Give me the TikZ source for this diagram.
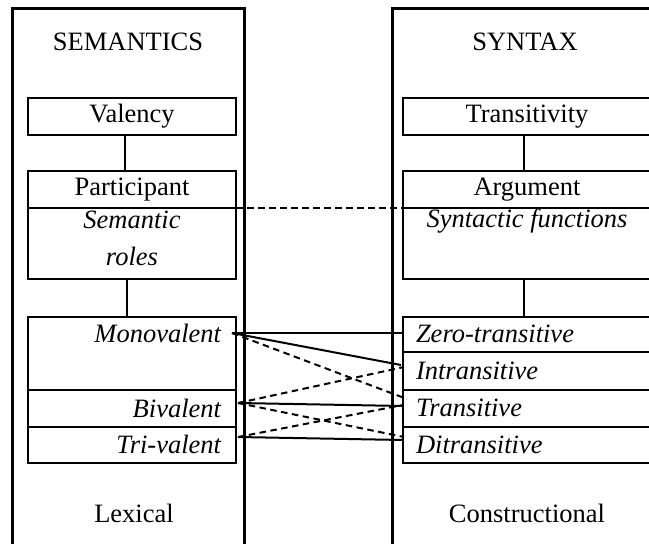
\documentclass[tikz,border=0pt]{standalone}
\usepackage{fontspec}
\setmainfont{Liberation Serif}
\begin{document}
\begin{tikzpicture}[x=1pt,y=-1pt,
  every node/.style={font=\fontsize{26.5}{37}\selectfont, inner sep=0pt, outer sep=0pt},
  panel/.style={line width=3pt},
  lcell/.style={draw, line width=2.6pt, minimum width=208pt, minimum height=#1},
  rcell/.style={draw, line width=2.6pt, minimum width=248pt, minimum height=#1},
  link/.style={line width=2pt},
  dlink/.style={line width=2pt, dash pattern=on 6.5pt off 4.5pt},
  tag/.style={font=\fontsize{26.5}{37}\selectfont\itshape}]
\useasboundingbox (0,0) rectangle (649,544);

% the two open panels
\draw[panel] (12,560) -- (12,8) -- (244,8) -- (244,560);
\draw[panel] (392,560) -- (392,8) -- (680,8);

% panel headings and footers
\node (semhead) at (128,42) {SEMANTICS};
\node (synhead) at (525,42) {SYNTAX};
\node (lexfoot) at (134,513) {Lexical};
\node (confoot) at (527,513) {Constructional};

% semantics column
\node[lcell=37pt] (val) at (132,116.5) {Valency};
\node[lcell=37pt] (part) at (132,189.5) {Participant};
\node[lcell=71pt] (roles) at (132,243.5) {};
\node[tag, align=center] (rolestxt) at (132,238.5) {Semantic\\roles};
\node[lcell=73pt] (mono) at (132,353.5) {};
\node[lcell=37pt] (bi) at (132,408.5) {};
\node[lcell=36pt] (tri) at (132,445) {};
\node[tag, anchor=east] (monotxt) at (221,333) {Monovalent};
\node[tag, anchor=east] (bitxt) at (221,408) {Bivalent};
\node[tag, anchor=east] (tritxt) at (221,444) {Tri-valent};

% syntax column
\node[rcell=37pt] (trs) at (527,116.5) {Transitivity};
\node[rcell=37pt] (arg) at (527,189.5) {Argument};
\node[rcell=71pt] (func) at (527,243.5) {};
\node[tag] (functxt) at (527,221) {Syntactic functions};
\node[rcell=35pt] (zero) at (527,334.5) {};
\node[rcell=38pt] (intr) at (527,371) {};
\node[rcell=37pt] (tran) at (527,408.5) {};
\node[rcell=36pt] (ditr) at (527,445) {};
\node[tag, anchor=west] (zerotxt) at (416,334) {Zero-transitive};
\node[tag, anchor=west] (intrtxt) at (416,371) {Intransitive};
\node[tag, anchor=west] (trantxt) at (416,408) {Transitive};
\node[tag, anchor=west] (ditrtxt) at (416,445) {Ditransitive};

% vertical links inside each column
\draw[link] ([xshift=-7pt]val.south) -- ([xshift=-7pt]part.north);
\draw[link] ([xshift=-5pt]roles.south) -- ([xshift=-5pt]mono.north);
\draw[link] ([xshift=-3pt]trs.south) -- ([xshift=-3pt]arg.north);
\draw[link] ([xshift=-3pt]func.south) -- ([xshift=-3pt]zero.north);

% participant / argument correspondence
\draw[dlink] (part.south east) -- (arg.south west);

% valency to transitivity mappings
\coordinate (mv) at (232,333);
\coordinate (bv) at (238,403);
\coordinate (tv) at (238,437);
\coordinate (zt) at (403,333);
\coordinate (in1) at (401,365);
\coordinate (in2) at (404,367);
\coordinate (tr1) at (407,399);
\coordinate (tr2) at (403,406);
\coordinate (tr3) at (403,405);
\coordinate (dt1) at (404,437);
\coordinate (dt2) at (403,440);

\draw[link] (mv) -- (zt);
\draw[link] (mv) -- (in1);
\draw[dlink] (mv) -- (tr1);
\draw[dlink] (bv) -- (in2);
\draw[link] (bv) -- (tr2);
\draw[dlink] (bv) -- (dt1);
\draw[dlink] (tv) -- (tr3);
\draw[link] (tv) -- (dt2);
\end{tikzpicture}
\end{document}
